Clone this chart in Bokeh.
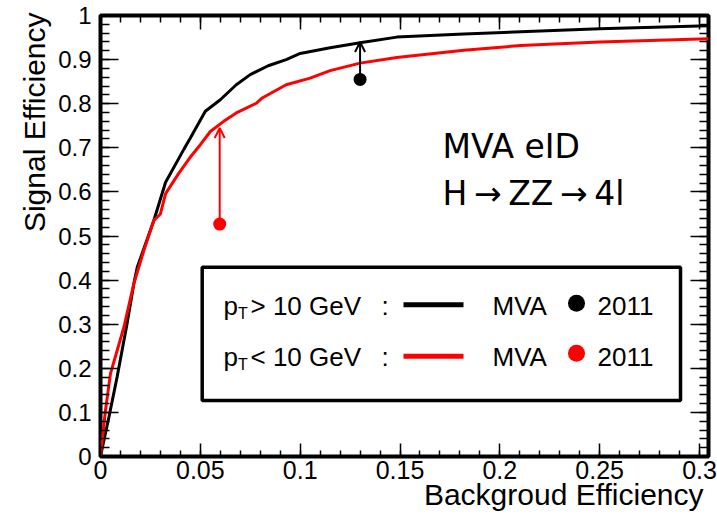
import math
from bokeh.plotting import figure
from bokeh.models import (Range1d, LinearAxis, FixedTicker, CustomJSTickFormatter,
                          Label, BoxAnnotation, Arrow, OpenHead, Title)
from bokeh.embed import file_html
from bokeh.resources import INLINE

# ---- ROC curves (background efficiency -> signal efficiency) ----
# electrons with pT > 10 GeV
bkg_hi = [0, 0.0042, 0.0083, 0.0133, 0.0167, 0.0184, 0.0267, 0.0326, 0.0418,
          0.045, 0.0525, 0.06, 0.068, 0.075, 0.084, 0.093, 0.1, 0.115, 0.13,
          0.1484, 0.182, 0.2105, 0.25, 0.3045]
sig_hi = [0, 0.089, 0.18, 0.301, 0.392, 0.429, 0.535, 0.622, 0.697,
          0.722, 0.783, 0.809, 0.843, 0.866, 0.886, 0.900, 0.914, 0.927, 0.938,
          0.951, 0.958, 0.963, 0.970, 0.977]
# electrons with pT < 10 GeV
bkg_lo = [0, 0.0025, 0.005, 0.0117, 0.0167, 0.0217, 0.0267, 0.030, 0.0326, 0.039,
          0.045, 0.05, 0.055, 0.0617, 0.068, 0.078, 0.081, 0.093, 0.105, 0.115,
          0.13, 0.1484, 0.182, 0.2105, 0.25, 0.3045]
sig_lo = [0, 0.105, 0.188, 0.293, 0.392, 0.467, 0.535, 0.550, 0.596, 0.641,
          0.679, 0.707, 0.737, 0.760, 0.779, 0.801, 0.813, 0.843, 0.858, 0.875,
          0.892, 0.905, 0.921, 0.932, 0.940, 0.947]

# 2011 working points and where the MVA reaches at the same background efficiency
wp_bkg = [0.130, 0.0597]
wp_sig = [0.855, 0.527]
wp_mva_sig = [0.940, 0.745]
wp_colors = ["black", "red"]

# axis ticks
xticks = [0, 0.05, 0.1, 0.15, 0.2, 0.25, 0.3]
yticks = [0, 0.1, 0.2, 0.3, 0.4, 0.5, 0.6, 0.7, 0.8, 0.9, 1.0]
xminor = [round(i * 0.01, 2) for i in range(31)]
yminor = [round(i * 0.02, 2) for i in range(51)]

X0, X1 = 0.0, 0.3045
Y0, Y1 = 0.0, 1.0
FL, FR, FT, FB = 100, 708, 15, 456  # frame edges in pixels


def fx(px):
    return X0 + (px - FL) / (FR - FL) * (X1 - X0)


def fy(py):
    return Y0 + (FB - py) / (FB - FT) * (Y1 - Y0)


p = figure(width=717, height=518, output_backend="svg", toolbar_location=None,
           x_range=Range1d(X0, X1), y_range=Range1d(Y0, Y1),
           min_border_left=FL, min_border_right=717 - FR,
           min_border_top=FT, min_border_bottom=518 - FB,
           background_fill_color="white", border_fill_color="white")
p.xgrid.visible = False
p.ygrid.visible = False
p.outline_line_color = "black"
p.outline_line_width = 4

AX_FONT = "Liberation Sans"

xtick = FixedTicker(ticks=xticks, minor_ticks=xminor)
ytick = FixedTicker(ticks=yticks, minor_ticks=yminor)
fmt = CustomJSTickFormatter(code="return String(Math.round(tick * 1000) / 1000);")

xa = p.xaxis[0]
xa.ticker = xtick
xa.formatter = fmt
ya = p.yaxis[0]
ya.ticker = ytick
ya.formatter = fmt

# mirrored tick marks on the top and right edges (no labels there)
top = LinearAxis(ticker=xtick)
right = LinearAxis(ticker=ytick)
p.add_layout(top, "above")
p.add_layout(right, "right")

for ax, maj, mnr in [(xa, 13, 6), (top, 14, 7), (ya, 18, 9), (right, 18, 9)]:
    ax.axis_line_color = None
    ax.major_tick_in = maj
    ax.major_tick_out = 0
    ax.minor_tick_in = mnr
    ax.minor_tick_out = 0
    ax.major_tick_line_color = "black"
    ax.minor_tick_line_color = "black"
    ax.major_tick_line_width = 1.5
    ax.minor_tick_line_width = 1.5
    ax.major_label_text_font = AX_FONT
    ax.major_label_text_color = "black"

xa.major_label_text_font_size = "25px"
xa.major_label_standoff = 4
ya.major_label_text_font_size = "24px"
ya.major_label_standoff = 9
for ax in (top, right):
    ax.major_label_text_font_size = "0px"
    ax.major_label_text_color = None
    ax.major_label_standoff = 0

# axis titles, right-aligned at the far end of each axis
p.add_layout(Title(text="Backgroud Efficiency", align="right", offset=5, standoff=-12,
                   text_font=AX_FONT, text_font_size="30px", text_font_style="normal",
                   text_color="black"), "below")
p.add_layout(Title(text="Signal Efficiency", align="right", offset=-3, standoff=10,
                   text_font=AX_FONT, text_font_size="30px", text_font_style="normal",
                   text_color="black"), "left")

# ROC curves
p.line(bkg_hi, sig_hi, line_color="black", line_width=3)
p.line(bkg_lo, sig_lo, line_color="red", line_width=3)

# working points with arrows to the MVA curve
for bx, sy, ty, c in zip(wp_bkg, wp_sig, wp_mva_sig, wp_colors):
    p.add_layout(Arrow(end=OpenHead(size=10, line_width=2, line_color=c),
                       x_start=bx, y_start=sy, x_end=bx, y_end=ty,
                       line_color=c, line_width=2))
p.scatter(wp_bkg, wp_sig, size=13, color=wp_colors, line_color=None)


def label(px, py, text, font=AX_FONT, size=26):
    p.add_layout(Label(x=fx(px), y=fy(py), text=text, text_font=font,
                       text_font_size=f"{size}px", text_color="black",
                       text_baseline="middle", text_align="left"))


# analysis caption
CAP_FONT = "DejaVu Sans"
label(442, 146, "MVA eID", CAP_FONT, 33)
label(442, 192.5, "H\u2009\u2192\u2009ZZ\u2009\u2192\u20094l", CAP_FONT, 33)

# legend box
p.add_layout(BoxAnnotation(left=fx(201.7), right=fx(680), top=fy(266.7), bottom=fy(400),
                           fill_color=None, line_color="black", line_alpha=1.0,
                           line_width=3.5))

rows = [
    (">", "black", 305.5, 304.3, 302.7),
    ("<", "red", 356.5, 355.7, 352.7),
]
for sign, c, mid, line_y, dot_y in rows:
    label(223, mid, "p")
    label(237.5, mid + 7, "T", size=16)
    label(250, mid, f"{sign} 10 GeV")
    label(381, mid, ":")
    p.line([fx(403), fx(463)], [fy(line_y), fy(line_y)], line_color=c, line_width=5)
    label(492, mid, "MVA")
    p.scatter([fx(576)], [fy(dot_y)], size=17, color=c, line_color=None)
    label(597, mid, "2011")

open("out.html", "w").write(file_html(p, INLINE))
